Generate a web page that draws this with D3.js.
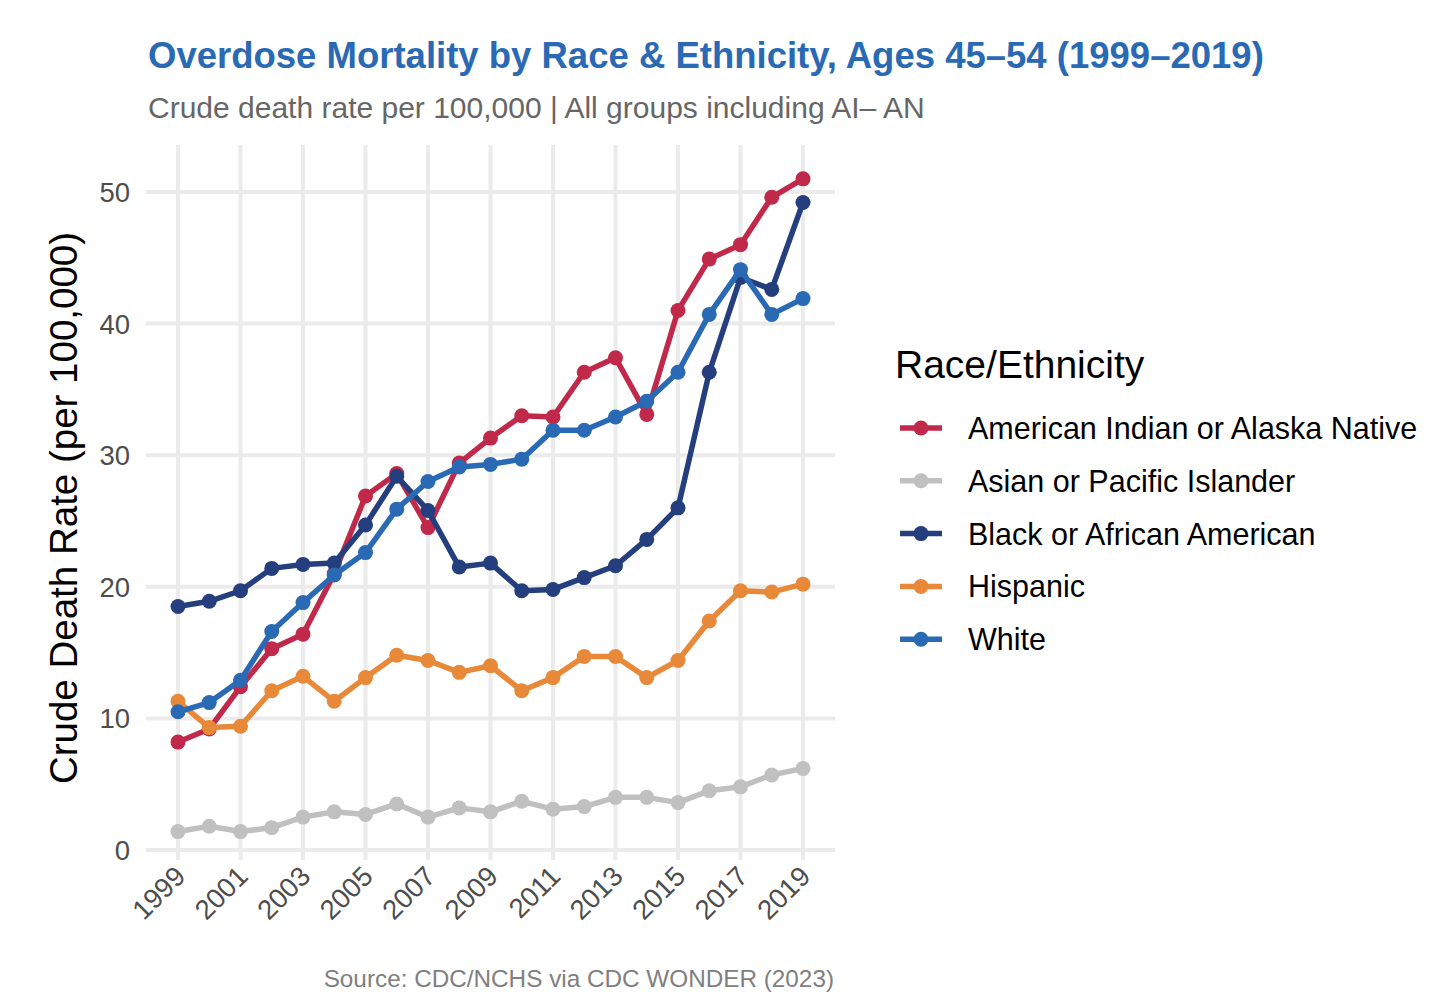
<!DOCTYPE html><html><head><meta charset="utf-8"><script src="https://cdn.jsdelivr.net/npm/d3@7"></script>
<style>body{margin:0;background:#fff}text{font-family:"Liberation Sans",Arial,sans-serif}</style></head><body><svg id="c" width="1430" height="1004"></svg><script>
const years=d3.range(1999,2020);
const xTicks=[1999,2001,2003,2005,2007,2009,2011,2013,2015,2017,2019];
const yTicks=[0,10,20,30,40,50];
const seriesNames=["American Indian or Alaska Native","Asian or Pacific Islander","Black or African American","Hispanic","White"];
const seriesColors=["#c0294a","#c0c0c0","#243e7e","#e8893a","#2a6ab4"];
const aian=[8.2,9.2,12.4,15.3,16.4,21.0,26.9,28.6,24.5,29.4,31.3,33.0,32.9,36.3,37.4,33.1,41.0,44.9,46.0,49.6,51.0];
const api=[1.4,1.8,1.4,1.7,2.5,2.9,2.7,3.5,2.5,3.2,2.9,3.7,3.1,3.3,4.0,4.0,3.6,4.5,4.8,5.7,6.2];
const black=[18.5,18.9,19.7,21.4,21.7,21.8,24.7,28.4,25.8,21.5,21.8,19.7,19.8,20.7,21.6,23.6,26.0,36.3,43.5,42.6,49.2];
const hispanic=[11.3,9.3,9.4,12.1,13.2,11.3,13.1,14.8,14.4,13.5,14.0,12.1,13.1,14.7,14.7,13.1,14.4,17.4,19.7,19.6,20.2];
const white=[10.5,11.2,12.9,16.6,18.8,20.9,22.6,25.9,28.0,29.1,29.3,29.7,31.9,31.9,32.9,34.1,36.3,40.7,44.1,40.7,41.9];
const allSeries=[aian,api,black,hispanic,white];
const svg=d3.select("#c");
const x=d3.scaleLinear().domain([1999,2019]).range([178,803]);
const y=d3.scaleLinear().domain([0,50]).range([850,192]);
const L=146,R=835,T=145,B=860;
const g=svg.append("g");
g.selectAll(".vg").data(xTicks).join("line").attr("x1",d=>x(d)).attr("x2",d=>x(d)).attr("y1",T).attr("y2",B).attr("stroke","#ebebeb").attr("stroke-width",4);
g.selectAll(".hg").data(yTicks).join("line").attr("y1",d=>y(d)).attr("y2",d=>y(d)).attr("x1",L).attr("x2",R).attr("stroke","#ebebeb").attr("stroke-width",4);
g.selectAll(".yl").data(yTicks).join("text").attr("x",130).attr("y",d=>y(d)+10).attr("text-anchor","end").attr("font-size",27.5).attr("fill","#4d4d4d").text(d=>d);
g.selectAll(".xl").data(xTicks).join("text").attr("transform",d=>`translate(${x(d)+9},${878}) rotate(-45)`).attr("text-anchor","end").attr("font-size",27.5).attr("fill","#4d4d4d").text(d=>d);
const line=d3.line().x((d,i)=>x(years[i])).y(d=>y(d));
allSeries.forEach((s,k)=>{
 g.append("path").attr("d",line(s)).attr("fill","none").attr("stroke",seriesColors[k]).attr("stroke-width",5.5).attr("stroke-linejoin","round");
 g.selectAll(null).data(s).join("circle").attr("cx",(d,i)=>x(years[i])).attr("cy",d=>y(d)).attr("r",7.5).attr("fill",seriesColors[k]);
});
svg.append("text").attr("x",148).attr("y",68).attr("font-size",36.5).attr("font-weight","bold").attr("fill","#2a6ab4").text("Overdose Mortality by Race & Ethnicity, Ages 45–54 (1999–2019)");
svg.append("text").attr("x",148).attr("y",118).attr("font-size",30).attr("fill","#666").text("Crude death rate per 100,000 | All groups including AI– AN");
svg.append("text").attr("transform","translate(77,508) rotate(-90)").attr("text-anchor","middle").attr("font-size",38.5).attr("fill","#000").text("Crude Death Rate (per 100,000)");
svg.append("text").attr("x",834).attr("y",987).attr("text-anchor","end").attr("font-size",24.3).attr("fill","#808080").text("Source: CDC/NCHS via CDC WONDER (2023)");
svg.append("text").attr("x",895).attr("y",378).attr("font-size",39).attr("fill","#000").text("Race/Ethnicity");
seriesNames.forEach((n,k)=>{
 const yy=428+k*52.8;
 svg.append("line").attr("x1",900).attr("x2",942).attr("y1",yy).attr("y2",yy).attr("stroke",seriesColors[k]).attr("stroke-width",5.5);
 svg.append("circle").attr("cx",921).attr("cy",yy).attr("r",7.5).attr("fill",seriesColors[k]);
 svg.append("text").attr("x",968).attr("y",yy+11).attr("font-size",30.5).attr("fill","#000").text(n);
});
</script></body></html>
